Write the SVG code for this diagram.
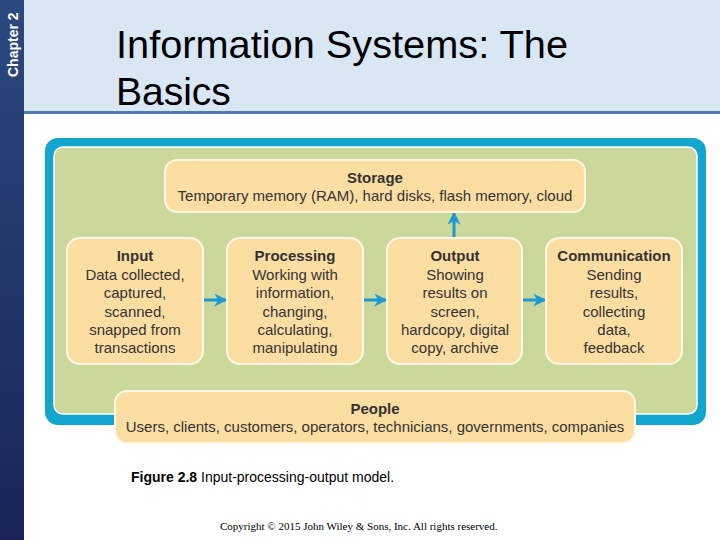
<svg xmlns="http://www.w3.org/2000/svg" width="720" height="540" viewBox="0 0 720 540">
<defs>
<linearGradient id="side" x1="0" y1="0" x2="0" y2="1">
<stop offset="0" stop-color="#2a4a80"/>
<stop offset="1" stop-color="#1a2457"/>
</linearGradient>
<marker id="ah" viewBox="0 0 10 10" refX="9" refY="5" markerWidth="13" markerHeight="13" markerUnits="userSpaceOnUse" orient="auto">
<path d="M0,0 L10,5 L0,10 L3,5 Z" fill="#1c98d4"/>
</marker>
</defs>
<style>
.box{fill:#fcdea3;stroke:#fff6e4;stroke-width:2}
.t{font-family:"Liberation Sans",Arial,sans-serif;font-size:15px;fill:#333;text-anchor:middle}
.b{font-weight:bold}
.conn{stroke:#1c98d4;stroke-width:3;fill:none;marker-end:url(#ah)}
</style>
<rect x="0" y="0" width="720" height="540" fill="#ffffff"/>
<rect x="0" y="0" width="24" height="540" fill="url(#side)"/>
<text transform="translate(18,77) rotate(-90)" font-family="Liberation Sans,Arial,sans-serif" font-size="14" font-weight="bold" fill="#ffffff">Chapter 2</text>
<rect x="24" y="0" width="696" height="112" fill="#d9e6f3"/>
<rect x="24" y="111" width="696" height="3" fill="#4f7db3"/>
<text x="116" y="58" font-family="Liberation Sans,Arial,sans-serif" font-size="39" fill="#000" textLength="452" lengthAdjust="spacingAndGlyphs">Information Systems: The</text>
<text x="116" y="105" font-family="Liberation Sans,Arial,sans-serif" font-size="39" fill="#000">Basics</text>

<g id="frame">
<rect x="45" y="138" width="661" height="287" rx="13" fill="#12a6cf"/>
<rect x="54" y="147" width="643" height="267" rx="9" fill="#cbd89c" stroke="#ffffff" stroke-width="1.5"/>
</g>

<g id="connectors">
<line class="conn" x1="204" y1="300" x2="226" y2="300"/>
<line class="conn" x1="364" y1="300" x2="386" y2="300"/>
<line class="conn" x1="523" y1="300" x2="545" y2="300"/>
<line class="conn" x1="454" y1="237" x2="454" y2="213"/>
</g>

<g id="storage">
<rect class="box" x="165" y="160" width="420" height="52" rx="12"/>
<text class="t b" x="375" y="183">Storage</text>
<text class="t" x="375" y="201">Temporary memory (RAM), hard disks, flash memory, cloud</text>
</g>

<g id="input">
<rect class="box" x="67" y="238" width="136" height="126" rx="13"/>
<text class="t b" x="135" y="261">Input</text>
<text class="t" x="135" y="280">Data collected,</text>
<text class="t" x="135" y="298">captured,</text>
<text class="t" x="135" y="317">scanned,</text>
<text class="t" x="135" y="335">snapped from</text>
<text class="t" x="135" y="353">transactions</text>
</g>

<g id="processing">
<rect class="box" x="227" y="238" width="136" height="126" rx="13"/>
<text class="t b" x="295" y="261">Processing</text>
<text class="t" x="295" y="280">Working with</text>
<text class="t" x="295" y="298">information,</text>
<text class="t" x="295" y="317">changing,</text>
<text class="t" x="295" y="335">calculating,</text>
<text class="t" x="295" y="353">manipulating</text>
</g>

<g id="output">
<rect class="box" x="387" y="238" width="135" height="126" rx="13"/>
<text class="t b" x="455" y="261">Output</text>
<text class="t" x="455" y="280">Showing</text>
<text class="t" x="455" y="298">results on</text>
<text class="t" x="455" y="317">screen,</text>
<text class="t" x="455" y="335">hardcopy, digital</text>
<text class="t" x="455" y="353">copy, archive</text>
</g>

<g id="communication">
<rect class="box" x="546" y="238" width="136" height="126" rx="13"/>
<text class="t b" x="614" y="261">Communication</text>
<text class="t" x="614" y="280">Sending</text>
<text class="t" x="614" y="298">results,</text>
<text class="t" x="614" y="317">collecting</text>
<text class="t" x="614" y="335">data,</text>
<text class="t" x="614" y="353">feedback</text>
</g>

<g id="people">
<rect class="box" x="115" y="391" width="520" height="52" rx="12"/>
<text class="t b" x="375" y="414">People</text>
<text class="t" x="375" y="432">Users, clients, customers, operators, technicians, governments, companies</text>
</g>

<text x="131" y="482" font-family="Liberation Sans,Arial,sans-serif" font-size="14" fill="#000"><tspan font-weight="bold">Figure 2.8</tspan> Input-processing-output model.</text>
<text x="220" y="530" font-family="Liberation Serif,Times New Roman,serif" font-size="11" fill="#000">Copyright © 2015 John Wiley &amp; Sons, Inc. All rights reserved.</text>
</svg>
